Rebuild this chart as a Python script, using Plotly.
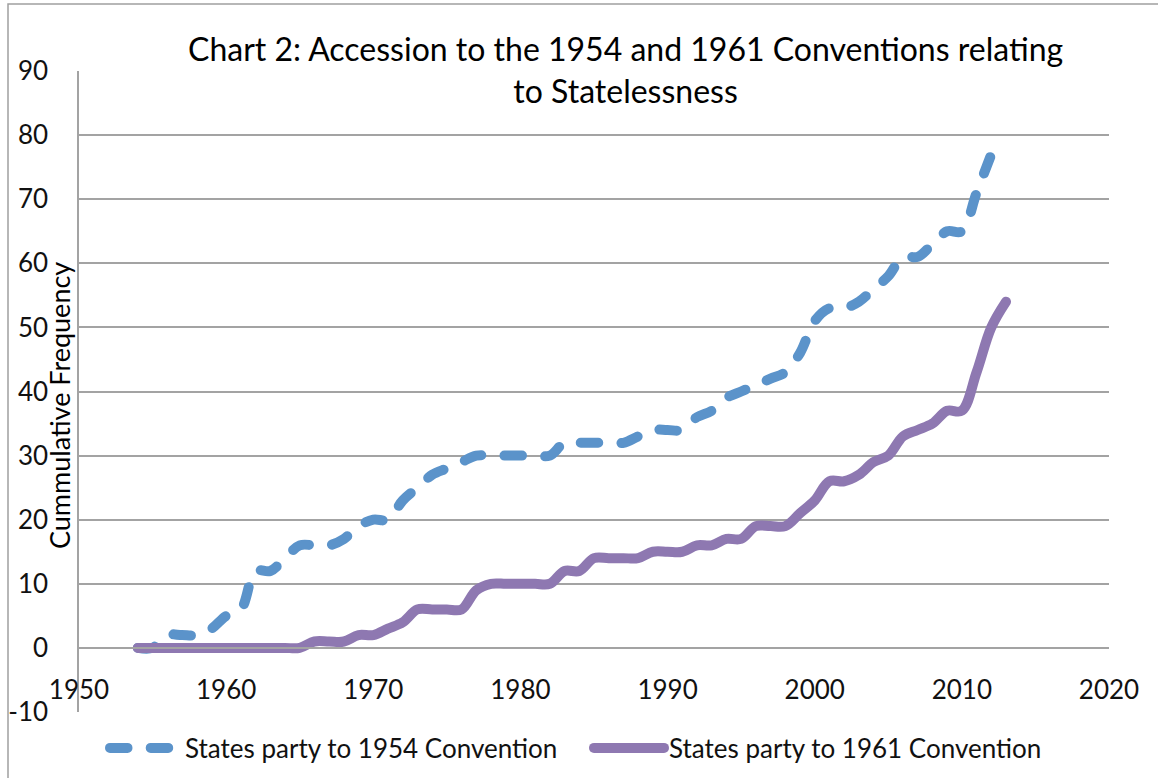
import plotly.graph_objects as go

# Cumulative number of States party to each convention, by year
years_1954 = list(range(1954, 2013))
parties_1954 = [0, 0, 2, 2, 2, 3, 5, 6, 12, 12,
                14, 16, 16, 16, 17, 19, 20, 20, 23, 25,
                27, 28, 29, 30, 30, 30, 30, 30, 30, 32,
                32, 32, 32, 32, 33, 34, 34, 34, 36, 37,
                39, 40, 41, 42, 43, 46, 51, 53, 53, 54,
                56, 58, 61, 61, 63, 65, 65, 71, 77]

years_1961 = list(range(1954, 2014))
parties_1961 = [0, 0, 0, 0, 0, 0, 0, 0, 0, 0,
                0, 0, 1, 1, 1, 2, 2, 3, 4, 6,
                6, 6, 6, 9, 10, 10, 10, 10, 10, 12,
                12, 14, 14, 14, 14, 15, 15, 15, 16, 16,
                17, 17, 19, 19, 19, 21, 23, 26, 26, 27,
                29, 30, 33, 34, 35, 37, 37, 43, 50, 54]

series_names = ["States party to 1954 Convention", "States party to 1961 Convention"]
title_text = "Chart 2: Accession to the 1954 and 1961 Conventions relating<br>to Statelessness"
y_title = "Cummulative Frequency"

x_ticks = [1950, 1960, 1970, 1980, 1990, 2000, 2010, 2020]
x_tick_labels = ["1950", "1960", "1970", "1980", "1990", "2000", "2010", "2020"]
y_ticks = [-10, 0, 10, 20, 30, 40, 50, 60, 70, 80, 90]
y_tick_labels = ["-10", "0", "10", "20", "30", "40", "50", "60", "70", "80", "90"]

BLUE = "#5B93CA"
PURPLE = "#8E78B1"
GRID = "#A3A3A3"
FONT = "Lato, 'Open Sans', sans-serif"
TEXT = "#111111"

W, H = 1158, 778
L, R, T, B = 79, 49, 71, 66
plot_w = W - L - R
plot_h = H - T - B

fig = go.Figure()
fig.add_trace(go.Scatter(
    x=years_1954, y=parties_1954, mode="lines", name=series_names[0],
    line=dict(color=BLUE, width=10, dash="17.5px,23.2px", shape="spline", smoothing=1),
))
fig.add_trace(go.Scatter(
    x=years_1961, y=parties_1961, mode="lines", name=series_names[1],
    line=dict(color=PURPLE, width=10, shape="spline", smoothing=1),
))

fig.update_layout(
    width=W, height=H,
    margin=dict(l=L, r=R, t=T, b=B, autoexpand=False),
    paper_bgcolor="white", plot_bgcolor="white",
    font=dict(family=FONT, size=26, color=TEXT),
    xaxis=dict(
        range=[1950, 2020], tickvals=x_ticks, ticktext=x_tick_labels,
        showgrid=False, zeroline=False,
        showline=True, linecolor=GRID, linewidth=1.5,
        anchor="free", position=0.1,
        ticks="", ticklabelstandoff=19,
        tickfont=dict(size=26, color=TEXT),
    ),
    yaxis=dict(
        range=[-10, 90], tickvals=y_ticks, ticktext=y_tick_labels,
        showgrid=True, gridcolor=GRID, gridwidth=1.5,
        zeroline=False,
        showline=True, linecolor=GRID, linewidth=1.5,
        ticks="", ticklabelstandoff=24,
        tickfont=dict(size=26, color=TEXT),
    ),
    legend=dict(
        orientation="h", xref="container", yref="container",
        x=105 / W, y=1 - 748 / H,
        xanchor="left", yanchor="middle",
        font=dict(size=26, color=TEXT),
        itemwidth=70, entrywidth=399, entrywidthmode="pixels",
        bgcolor="rgba(0,0,0,0)",
    ),
    showlegend=True,
)

# Two-line chart title
fig.add_annotation(
    text=title_text, showarrow=False, align="center",
    xref="paper", yref="paper",
    x=(625 - L) / plot_w, xanchor="center",
    y=(T + plot_h - 27) / plot_h, yanchor="top",
    font=dict(size=32, color="#000000"),
)

# Vertical axis title, set close to the axis line
fig.add_annotation(
    text=y_title, textangle=-90, showarrow=False,
    xref="paper", yref="paper",
    x=0, xanchor="center", xshift=-19,
    y=(T + plot_h - 406) / plot_h, yanchor="middle",
    font=dict(size=27, color="#000000"),
)

# Chart-area border
fig.add_shape(
    type="rect", xref="paper", yref="paper",
    x0=(8 - L) / plot_w, x1=(W + 40 - L) / plot_w,
    y0=-(H + 40 - T - plot_h) / plot_h, y1=(T + plot_h - 4) / plot_h,
    line=dict(color="#A0A0A0", width=1.5), fillcolor="rgba(0,0,0,0)",
    layer="below",
)

round_caps = (
    "var s=document.createElement('style');"
    "s.textContent='path.js-line{stroke-linecap:round;stroke-linejoin:round;}';"
    "document.head.appendChild(s);"
)
fig.write_html("out.html", post_script=round_caps)
